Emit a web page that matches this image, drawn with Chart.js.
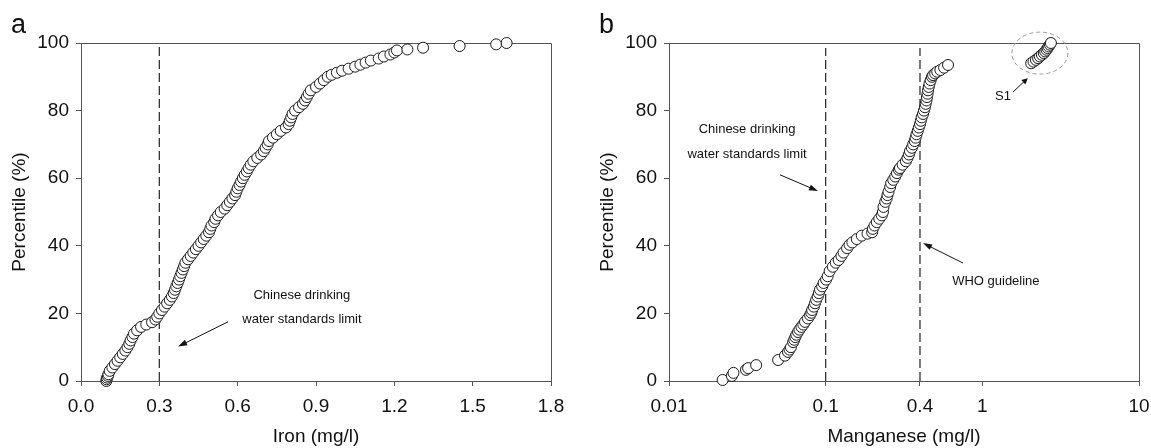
<!DOCTYPE html>
<html>
<head>
<meta charset="utf-8">
<script src="https://cdn.jsdelivr.net/npm/chart.js@4.4.1/dist/chart.umd.min.js"></script>
<style>
  body { margin: 0; background: #fff; }
  #wrap { position: relative; width: 1151px; height: 448px; }
  canvas { position: absolute; top: 0; }
  #ironChart { left: 0; }
  #mnChart { left: 576px; }
</style>
</head>
<body>
<div id="wrap">
  <canvas id="ironChart" width="576" height="448" style="width:576px;height:448px"></canvas>
  <canvas id="mnChart" width="575" height="448" style="width:575px;height:448px"></canvas>
</div>
<script>
// percentile (%) and iron concentration (mg/l)
const ironPct = [0, 0.5, 1, 1.5, 2, 3, 4, 5, 6, 7,
  8, 9, 10, 11, 12, 13, 14, 15, 16, 16.7,
  17.4, 18.2, 19, 20, 21, 22, 23, 24, 25, 26,
  27, 28, 29, 30, 31, 32, 33, 34, 35, 36,
  37, 38, 39, 40, 41, 42, 43, 44, 45, 46,
  47, 48, 49, 50, 51, 52, 53, 54, 55, 56,
  57, 58, 59, 60, 61, 62, 63, 64, 65, 66,
  67, 68, 69, 70, 71, 72, 73, 74, 75, 76,
  77, 78, 79, 80, 81, 82, 83, 84, 85, 86,
  87, 88, 89, 90, 90.6, 91.2, 91.8, 92.4, 93, 93.6,
  94.2, 94.8, 95.4, 96, 96.6, 97.2, 97.8, 98.1, 98.6, 99.1,
  99.6, 100];
const ironValues = [0.097, 0.098, 0.10, 0.103, 0.105, 0.11, 0.12, 0.13, 0.14, 0.15,
  0.16, 0.17, 0.178, 0.185, 0.19, 0.197, 0.203, 0.215, 0.23, 0.25,
  0.272, 0.285, 0.292, 0.30, 0.31, 0.32, 0.33, 0.34, 0.348, 0.355,
  0.36, 0.365, 0.37, 0.375, 0.38, 0.385, 0.39, 0.395, 0.40, 0.41,
  0.42, 0.43, 0.44, 0.45, 0.46, 0.47, 0.48, 0.49, 0.495, 0.50,
  0.51, 0.515, 0.525, 0.535, 0.55, 0.56, 0.57, 0.58, 0.59, 0.595,
  0.60, 0.607, 0.613, 0.62, 0.627, 0.635, 0.642, 0.65, 0.66, 0.675,
  0.69, 0.70, 0.707, 0.715, 0.72, 0.735, 0.75, 0.765, 0.785, 0.795,
  0.80, 0.805, 0.81, 0.82, 0.835, 0.85, 0.858, 0.865, 0.872, 0.88,
  0.90, 0.915, 0.93, 0.945, 0.96, 0.98, 1.00, 1.025, 1.05, 1.07,
  1.09, 1.11, 1.14, 1.16, 1.185, 1.20, 1.21, 1.25, 1.31, 1.45,
  1.59, 1.63];

// percentile (%) and manganese concentration (mg/l)
const mnPct = [0.3, 1.5, 2.4, 3.3, 3.8, 4.7, 6.2, 7.5, 8.6, 9.3,
  10, 11.5, 12.2, 13, 13.7, 14.5, 15.2, 16, 16.7, 17.5,
  18.5, 19.5, 20.2, 21, 22, 23, 24, 25, 26, 27,
  28, 29, 30, 31, 32.5, 33.8, 35, 35.8, 37, 38,
  39.3, 40.3, 41, 42, 43, 43.6, 44, 45, 46, 47,
  48, 49, 50, 51.5, 53, 54, 55, 56, 57.4, 58.5,
  59.5, 60.5, 61.5, 62.5, 63, 64, 65, 66, 67, 68,
  69, 70, 71, 72, 73, 74, 75, 76, 77, 78,
  79, 80, 81, 82, 83, 84, 85, 86, 87, 88,
  89, 90, 90.5, 91, 91.5, 92, 92.7, 93.5, 94, 94.5,
  95, 95.5, 96, 96.5, 97, 97.5, 98, 98.5, 99, 99.5,
  100];
const mnValues = [0.022, 0.0252, 0.0258, 0.031, 0.032, 0.036, 0.0497, 0.055, 0.0575, 0.0588,
  0.060, 0.062, 0.063, 0.064, 0.065, 0.0666, 0.068, 0.070, 0.072, 0.0738,
  0.077, 0.0795, 0.081, 0.082, 0.084, 0.0855, 0.087, 0.089, 0.0905, 0.092,
  0.095, 0.097, 0.1006, 0.103, 0.106, 0.111, 0.116, 0.121, 0.126, 0.130,
  0.137, 0.142, 0.148, 0.158, 0.170, 0.185, 0.198, 0.200, 0.205, 0.212,
  0.220, 0.228, 0.232, 0.234, 0.240, 0.245, 0.248, 0.252, 0.258, 0.262,
  0.270, 0.278, 0.285, 0.293, 0.298, 0.310, 0.325, 0.333, 0.340, 0.345,
  0.355, 0.362, 0.370, 0.375, 0.380, 0.387, 0.393, 0.400, 0.405, 0.410,
  0.418, 0.424, 0.430, 0.435, 0.440, 0.443, 0.447, 0.450, 0.455, 0.460,
  0.468, 0.477, 0.485, 0.500, 0.515, 0.540, 0.570, 0.604, 2.05, 2.12,
  2.20, 2.27, 2.33, 2.40, 2.47, 2.52, 2.57, 2.61, 2.65, 2.70,
  2.74];

const pctTicks = [0, 20, 40, 60, 80, 100];
const ironTicks = [0, 0.3, 0.6, 0.9, 1.2, 1.5, 1.8];
const mnTicks = [0.01, 0.1, 0.4, 1, 10];
const ironLimits = [0.3];        // Chinese drinking water standard
const mnLimits = [0.1, 0.4];     // Chinese standard, WHO guideline

Chart.defaults.font.family = "'Liberation Sans', Arial, sans-serif";
Chart.defaults.color = '#111';

const tickFont = { size: 19 };
const axisColor = '#555';

// frame, panel letter, notes and arrows
const extras = {
  id: 'extras',
  beforeDatasetsDraw(chart) {
    const { ctx, chartArea: a } = chart;
    ctx.save();
    ctx.strokeStyle = axisColor;
    ctx.lineWidth = 1;
    ctx.beginPath();
    ctx.moveTo(a.left, a.top + 0.5);
    ctx.lineTo(a.right + 0.5, a.top + 0.5);
    ctx.lineTo(a.right + 0.5, a.bottom);
    ctx.stroke();
    ctx.restore();
  },
  afterDraw(chart, args, opts) {
    const { ctx, chartArea: a, scales: { x, y } } = chart;
    ctx.save();
    ctx.fillStyle = '#111';
    ctx.font = "27px 'Liberation Sans', Arial, sans-serif";
    ctx.textBaseline = 'alphabetic';
    ctx.textAlign = 'left';
    ctx.fillText(opts.panel, a.left - 70, a.top - 10);

    ctx.font = "13px 'Liberation Sans', Arial, sans-serif";
    ctx.textAlign = 'center';
    ctx.textBaseline = 'middle';
    (opts.notes || []).forEach(n => {
      ctx.fillText(n.text, x.getPixelForValue(n.x), y.getPixelForValue(n.y));
    });

    ctx.strokeStyle = '#111';
    ctx.lineWidth = 1;
    (opts.arrows || []).forEach(ar => {
      const x1 = x.getPixelForValue(ar.from[0]), y1 = y.getPixelForValue(ar.from[1]);
      const x2 = x.getPixelForValue(ar.to[0]), y2 = y.getPixelForValue(ar.to[1]);
      const ang = Math.atan2(y2 - y1, x2 - x1);
      const len = ar.head || 9;
      ctx.beginPath();
      ctx.moveTo(x1, y1);
      ctx.lineTo(x2 - Math.cos(ang) * len * 0.8, y2 - Math.sin(ang) * len * 0.8);
      ctx.stroke();
      ctx.beginPath();
      ctx.moveTo(x2, y2);
      ctx.lineTo(x2 - len * Math.cos(ang) + 3 * Math.sin(ang), y2 - len * Math.sin(ang) - 3 * Math.cos(ang));
      ctx.lineTo(x2 - len * Math.cos(ang) - 3 * Math.sin(ang), y2 - len * Math.sin(ang) + 3 * Math.cos(ang));
      ctx.closePath();
      ctx.fill();
    });

    if (opts.ellipse) {
      const e = opts.ellipse;
      ctx.strokeStyle = '#999';
      ctx.setLineDash([4, 3]);
      ctx.beginPath();
      ctx.ellipse(x.getPixelForValue(e.x), y.getPixelForValue(e.y), e.rx, e.ry, 0, 0, Math.PI * 2);
      ctx.stroke();
    }
    ctx.restore();
  }
};

function pointSet(xs, ps) {
  return {
    data: ps.map((p, i) => ({ x: xs[i], y: p })),
    pointRadius: 5.5,
    pointBackgroundColor: '#fff',
    pointBorderColor: '#1a1a1a',
    pointBorderWidth: 1,
    clip: false,
    order: 0
  };
}

function limitSet(v, top) {
  return {
    data: [{ x: v, y: 0 }, { x: v, y: top }],
    showLine: true,
    borderColor: '#333',
    borderWidth: 1.3,
    borderDash: [9, 4],
    pointRadius: 0,
    order: 1
  };
}

function yScale() {
  return {
    min: 0, max: 100,
    afterBuildTicks: s => { s.ticks = pctTicks.map(v => ({ value: v })); },
    afterFit: s => { s.width = 81; },
    ticks: { font: tickFont, padding: 7 },
    grid: { drawOnChartArea: false, tickLength: 5, color: axisColor },
    border: { color: axisColor },
    title: { display: true, text: 'Percentile (%)', font: tickFont, padding: { top: 8, bottom: 0 } }
  };
}

function xScale(extra) {
  return Object.assign({
    // fixed height, and no extra room for the end labels
    afterFit: s => { s.height = 67; s.paddingLeft = 0; s.paddingRight = 0; },
    grid: { drawOnChartArea: false, tickLength: 5, color: axisColor },
    border: { color: axisColor },
  }, extra);
}

const common = {
  responsive: false,
  animation: false,
  events: [],
  plugins: { legend: { display: false }, tooltip: { enabled: false } }
};

new Chart(document.getElementById('ironChart'), {
  type: 'scatter',
  data: {
    datasets: [pointSet(ironValues, ironPct)].concat(ironLimits.map(v => limitSet(v, 100)))
  },
  options: {
    ...common,
    layout: { padding: { left: 0, top: 43, right: 25, bottom: 0 } },
    plugins: {
      ...common.plugins,
      extras: {
        panel: 'a',
        notes: [
          { text: 'Chinese drinking', x: 0.846, y: 25.4 },
          { text: 'water standards limit', x: 0.846, y: 18.3 }
        ],
        arrows: [{ from: [0.563, 17.5], to: [0.372, 10.2] }]
      }
    },
    scales: {
      x: xScale({
        type: 'linear', min: 0, max: 1.8,
        afterBuildTicks: s => { s.ticks = ironTicks.map(v => ({ value: v })); },
        ticks: { font: tickFont, padding: 9, maxRotation: 0, autoSkip: false, callback: v => v.toFixed(1) },
        title: { display: true, text: 'Iron (mg/l)', font: tickFont, padding: { top: 0, bottom: 0 } }
      }),
      y: yScale()
    }
  },
  plugins: [extras]
});

new Chart(document.getElementById('mnChart'), {
  type: 'scatter',
  data: {
    datasets: [pointSet(mnValues, mnPct)].concat(mnLimits.map(v => limitSet(v, 98.5)))
  },
  options: {
    ...common,
    layout: { padding: { left: 12, top: 43, right: 12, bottom: 0 } },
    plugins: {
      ...common.plugins,
      extras: {
        panel: 'b',
        notes: [
          { text: 'Chinese drinking', x: 0.0315, y: 74.3 },
          { text: 'water standards limit', x: 0.0315, y: 66.9 },
          { text: 'WHO guideline', x: 1.22, y: 29.6 },
          { text: 'S1', x: 1.355, y: 84.3 }
        ],
        arrows: [
          { from: [0.0511, 61], to: [0.0893, 56.2] },
          { from: [0.753, 34.9], to: [0.418, 40.8] },
          { from: [1.57, 85.5], to: [1.95, 89.6], head: 6 }
        ],
        ellipse: { x: 2.33, y: 97, rx: 28, ry: 21 }
      }
    },
    scales: {
      x: xScale({
        type: 'logarithmic', min: 0.01, max: 10,
        afterBuildTicks: s => { s.ticks = mnTicks.map(v => ({ value: v })); },
        ticks: { font: tickFont, padding: 9, maxRotation: 0, autoSkip: false, callback: v => String(v) },
        title: { display: true, text: 'Manganese (mg/l)', font: tickFont, padding: { top: 0, bottom: 0 } }
      }),
      y: yScale()
    }
  },
  plugins: [extras]
});
</script>
</body>
</html>
